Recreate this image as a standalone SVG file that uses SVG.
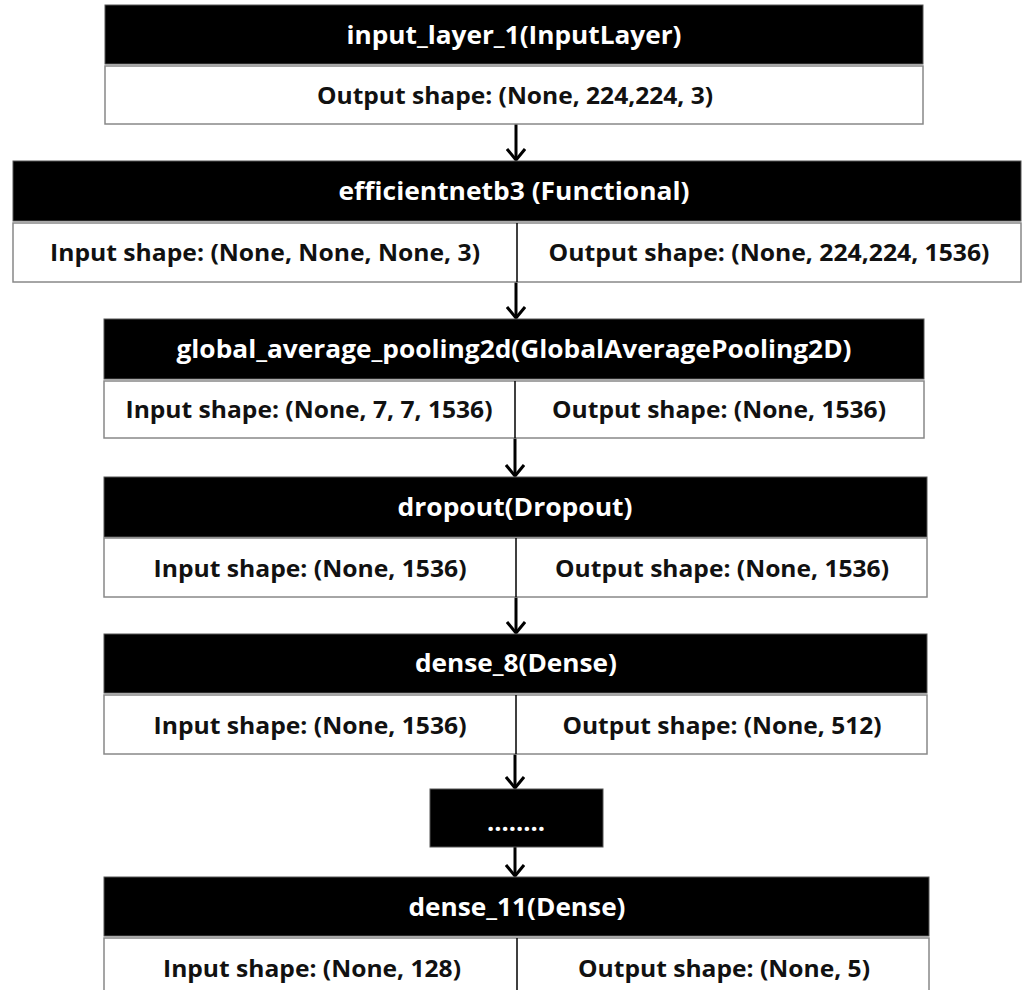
<svg xmlns="http://www.w3.org/2000/svg" width="1022" height="990" viewBox="0 0 1022 990">
<style>
.hd{fill:#000;stroke:#555;stroke-width:1}
.bd{fill:#fff;stroke:#888;stroke-width:1.5}
.dv{stroke:#000;stroke-width:1.5}
.tt{font-family:"Open Sans","Noto Sans",sans-serif;font-weight:700;font-size:24.5px;fill:#fff;text-anchor:middle}
.tx{font-family:"Open Sans","Noto Sans",sans-serif;font-weight:700;font-size:23.5px;fill:#111;text-anchor:middle}
.ar{stroke:#000;stroke-width:3;fill:none}
</style>
<defs>
<marker id="ah" viewBox="0 0 14 20" refX="12" refY="10" markerWidth="14" markerHeight="20" markerUnits="userSpaceOnUse" orient="auto">
<path d="M1,1 L12,10 L1,19" fill="none" stroke="#000" stroke-width="3"/>
</marker>
</defs>
<rect width="1022" height="990" fill="#fff"/>
<g id="connectors">
<line class="ar" x1="516" y1="124" x2="516" y2="160" marker-end="url(#ah)"/>
<line class="ar" x1="516" y1="282" x2="516" y2="318" marker-end="url(#ah)"/>
<line class="ar" x1="515" y1="438" x2="515" y2="476" marker-end="url(#ah)"/>
<line class="ar" x1="516" y1="597" x2="516" y2="633" marker-end="url(#ah)"/>
<line class="ar" x1="515" y1="754" x2="515" y2="788" marker-end="url(#ah)"/>
<line class="ar" x1="515" y1="847" x2="515" y2="876" marker-end="url(#ah)"/>
</g>
<g id="input_layer_1">
<rect class="hd" x="105" y="5" width="818" height="59"/>
<rect class="bd" x="105" y="66" width="818" height="58"/>
<text class="tt" x="514" y="44" textLength="335" lengthAdjust="spacingAndGlyphs">input_layer_1(InputLayer)</text>
<text class="tx" x="515" y="103.5" textLength="396" lengthAdjust="spacingAndGlyphs">Output shape: (None, 224,224, 3)</text>
</g>
<g id="efficientnetb3">
<rect class="hd" x="13" y="161" width="1008" height="60"/>
<rect class="bd" x="13" y="223" width="1008" height="59"/>
<line class="dv" x1="517" y1="223" x2="517" y2="282"/>
<text class="tt" x="514" y="200" textLength="351" lengthAdjust="spacingAndGlyphs">efficientnetb3 (Functional)</text>
<text class="tx" x="265" y="261" textLength="430" lengthAdjust="spacingAndGlyphs">Input shape: (None, None, None, 3)</text>
<text class="tx" x="769" y="261" textLength="441" lengthAdjust="spacingAndGlyphs">Output shape: (None, 224,224, 1536)</text>
</g>
<g id="global_average_pooling2d">
<rect class="hd" x="104" y="319" width="820" height="60"/>
<rect class="bd" x="104" y="381" width="820" height="57"/>
<line class="dv" x1="515" y1="381" x2="515" y2="438"/>
<text class="tt" x="514" y="358" textLength="675" lengthAdjust="spacingAndGlyphs">global_average_pooling2d(GlobalAveragePooling2D)</text>
<text class="tx" x="309" y="418" textLength="367" lengthAdjust="spacingAndGlyphs">Input shape: (None, 7, 7, 1536)</text>
<text class="tx" x="719" y="418" textLength="334" lengthAdjust="spacingAndGlyphs">Output shape: (None, 1536)</text>
</g>
<g id="dropout">
<rect class="hd" x="104" y="477" width="823" height="60"/>
<rect class="bd" x="104" y="538" width="823" height="59"/>
<line class="dv" x1="516" y1="538" x2="516" y2="597"/>
<text class="tt" x="515" y="516" textLength="235" lengthAdjust="spacingAndGlyphs">dropout(Dropout)</text>
<text class="tx" x="310" y="577" textLength="313" lengthAdjust="spacingAndGlyphs">Input shape: (None, 1536)</text>
<text class="tx" x="722" y="577" textLength="334" lengthAdjust="spacingAndGlyphs">Output shape: (None, 1536)</text>
</g>
<g id="dense_8">
<rect class="hd" x="104" y="634" width="823" height="59"/>
<rect class="bd" x="104" y="695" width="823" height="59"/>
<line class="dv" x1="516" y1="695" x2="516" y2="754"/>
<text class="tt" x="516" y="672" textLength="202" lengthAdjust="spacingAndGlyphs">dense_8(Dense)</text>
<text class="tx" x="310" y="734" textLength="313" lengthAdjust="spacingAndGlyphs">Input shape: (None, 1536)</text>
<text class="tx" x="722" y="734" textLength="319" lengthAdjust="spacingAndGlyphs">Output shape: (None, 512)</text>
</g>
<g id="ellipsis">
<rect class="hd" x="430" y="789" width="173" height="58"/>
<text class="tt" x="516" y="831" textLength="58" lengthAdjust="spacingAndGlyphs">........</text>
</g>
<g id="dense_11">
<rect class="hd" x="104" y="877" width="825" height="59"/>
<rect class="bd" x="104" y="938" width="825" height="62"/>
<line class="dv" x1="517" y1="938" x2="517" y2="1000"/>
<text class="tt" x="517" y="916" textLength="217" lengthAdjust="spacingAndGlyphs">dense_11(Dense)</text>
<text class="tx" x="312" y="977" textLength="298" lengthAdjust="spacingAndGlyphs">Input shape: (None, 128)</text>
<text class="tx" x="724" y="977" textLength="292" lengthAdjust="spacingAndGlyphs">Output shape: (None, 5)</text>
</g>
</svg>
